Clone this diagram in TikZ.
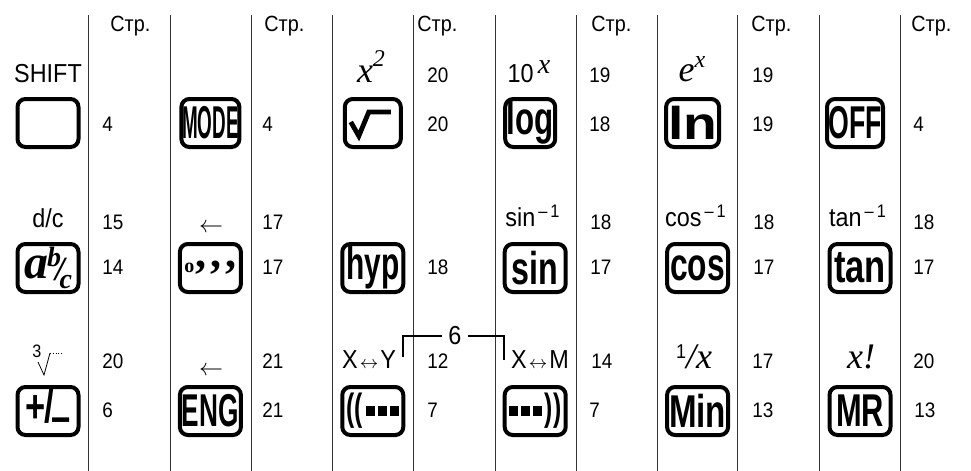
\documentclass[tikz,border=0pt]{standalone}
\usepackage{fontspec}
\usepackage{graphicx}
\usepackage{tikz}
\usetikzlibrary{arrows.meta,positioning}
\newfontfamily\lblfont{Liberation Sans}[FakeStretch=0.9]
\newfontfamily\keyfont{Liberation Sans}
\newfontfamily\serfont{Liberation Serif}
\newcommand{\keytext}[2]{\scalebox{#1}[1]{\keyfont\bfseries\fontsize{23}{23}\selectfont #2}}
\newcommand{\keysq}{\rule[2.5pt]{4.5pt}{5pt}}

\begin{document}
\begin{tikzpicture}[x=0.5pt, y=-0.5pt, node distance=81.2pt, >=Latex,
  key/.style={draw,line width=2pt,rounded corners=4pt,minimum width=30.5pt,minimum height=24pt,inner sep=0pt},
  alt/.style={font=\lblfont\fontsize{13}{13}\selectfont,inner sep=0pt,anchor=base},
  altser/.style={font=\serfont\itshape\fontsize{18}{18}\selectfont,inner sep=0pt,anchor=base},
  pg/.style={font=\lblfont\fontsize{10.5}{10.5}\selectfont,inner sep=0pt,anchor=west},
  hdr/.style={font=\lblfont\fontsize{11}{11}\selectfont,inner sep=0pt,anchor=west},
  colline/.style={line width=0.5pt,black!80}]
\fill[white] (0,0) rectangle (971,471);
\useasboundingbox (0,0) rectangle (971,471);

% Column rules
\foreach \x in {88,170,251,332,413,495,576,657,737,819,900}
  \draw[colline] (\x,15) -- (\x,471);

% Headers
\node(hdr1)[hdr] at (110,26){Стр.};
\node(hdr2)[hdr] at (264,26){Стр.};
\node(hdr3)[hdr] at (417,26){Стр.};
\node(hdr4)[hdr] at (591,26){Стр.};
\node(hdr5)[hdr] at (751,26){Стр.};
\node(hdr6)[hdr] at (911,26){Стр.};

% Keys, first row
\node(shift)[key] at (48,123){};
\node(mode)[key,right of=shift,minimum width=29pt]{\keytext{0.41}{MODE}};
\node(sqrt)[key,right of=mode,minimum width=28pt]{};
\node(log)[key,right of=sqrt,minimum width=25pt,xshift=-2.5pt]{\keytext{0.68}{log}};
\node(ln)[key,right of=log,minimum width=26.5pt]{\keytext{1.2}{ln}};
\node(off)[key,right of=ln,minimum width=28pt]{\keytext{0.58}{OFF}};
\draw[line width=2.4pt,line join=miter] ([shift={(-22,-1)}]sqrt.center) -- ++(8,14) -- ++(10,-24) -- ++(22,0);

% Keys, second row
\node(abc)[key] at (48,268){{\serfont\bfseries\itshape\fontsize{24}{24}\selectfont a\kern-.5pt\raisebox{6pt}{\fontsize{14}{14}\selectfont b}\kern-3pt\raisebox{-1pt}{\fontsize{17}{17}\selectfont /}\kern-2.5pt\raisebox{-5pt}{\fontsize{14}{14}\selectfont c}}};
\node(dms)[key,right of=abc]{{\serfont\bfseries\raisebox{-2.5pt}{\fontsize{10}{10}\selectfont o}\fontsize{22}{22}\selectfont\kern.5pt,\kern2pt,\kern2pt,}};
\node(hyp)[key,right of=dms]{\keytext{0.65}{hyp}};
\node(sin)[key,right of=hyp]{\keytext{0.7}{sin}};
\node(cos)[key,right of=sin]{\keytext{0.69}{cos}};
\node(tan)[key,right of=cos]{\keytext{0.75}{tan}};

% Keys, third row
\node(pm)[key] at (48,411){\keytext{0.75}{+\kern-1pt/\kern-2pt\raisebox{-5pt}{–}}};
\node(eng)[key,right of=pm]{\keytext{0.57}{ENG}};
\node(lpar)[key,right of=eng]{\scalebox{0.65}[1]{\keyfont\bfseries\fontsize{19}{19}\selectfont ((}\kern1.5pt\keysq\kern1.5pt\keysq\kern1.5pt\keysq};
\node(rpar)[key,right of=lpar]{\keysq\kern1.5pt\keysq\kern1.5pt\keysq\kern1.5pt\scalebox{0.65}[1]{\keyfont\bfseries\fontsize{19}{19}\selectfont ))}};
\node(min)[key,right of=rpar]{\keytext{0.72}{Min}};
\node(mr)[key,right of=min]{\keytext{0.67}{MR}};

% Second functions
\node(shiftlbl)[alt] at (48,83){SHIFT};
\node(sqrtlbl)[altser] at (371,83){x\raisebox{.45em}{\fontsize{12}{12}\selectfont 2}};
\node(loglbl)[alt] at (529,83){10\,\raisebox{.35em}{\serfont\itshape\fontsize{14}{14}\selectfont x}};
\node(lnlbl)[altser] at (692,82){e\raisebox{.4em}{\fontsize{12}{12}\selectfont x}};

\node(abclbl)[alt] at (48,227){d/c};
\node(dmslbl)[inner sep=0pt,font=\fontsize{12}{12}\selectfont] at (211,228){$\leftarrow$};
\node(sinlbl)[alt] at (533,226){sin\textsuperscript{\,–\,1}};
\node(coslbl)[alt] at (696,226){cos\textsuperscript{\,–\,1}};
\node(tanlbl)[alt] at (858,226){tan\textsuperscript{\,–\,1}};

\node(pmlbl)[inner sep=0pt,font=\lblfont\fontsize{9}{9}\selectfont] at (37,351){3};
\draw[line width=0.4pt] ([shift={(1,11)}]pmlbl.center) -- ++(6,13) -- ++(6,-22);
\draw[line width=0.4pt,densely dotted] ([shift={(13,2)}]pmlbl.center) -- ++(13,0);
\node(englbl)[inner sep=0pt,font=\fontsize{12}{12}\selectfont] at (211,371){$\leftarrow$};
\node(lparlbl)[alt] at (369,368){X\kern1pt{\fontsize{9}{9}\selectfont$\leftrightarrow$}\kern1pt Y};
\node(rparlbl)[alt] at (540,368){X\kern1pt{\fontsize{9}{9}\selectfont$\leftrightarrow$}\kern1pt M};
\node(minlbl)[alt] at (694,368){\raisebox{.35em}{\fontsize{10}{10}\selectfont 1}{\serfont\itshape\fontsize{18}{18}\selectfont /x}};
\node(mrlbl)[altser] at (861,368){x!};

% Bracket over the two parenthesis keys
\node(six)[font=\lblfont\fontsize{13}{13}\selectfont,inner sep=3pt] at (455,336){6};
\coordinate(brl) at (403,357);
\coordinate(brr) at (504,360);
\draw[line width=0.8pt] (brl) |- (six.west);
\draw[line width=0.8pt] (six.east) -| (brr);

% Page numbers
\node(p1a)[pg] at (102,124){4};
\node(p1b)[pg] at (102,222){15};
\node(p1c)[pg] at (102,267){14};
\node(p1d)[pg] at (102,361){20};
\node(p1e)[pg] at (102,410){6};
\node(p2a)[pg] at (262,124){4};
\node(p2b)[pg] at (262,222){17};
\node(p2c)[pg] at (262,267){17};
\node(p2d)[pg] at (262,361){21};
\node(p2e)[pg] at (262,410){21};
\node(p3a)[pg] at (427,75){20};
\node(p3b)[pg] at (427,124){20};
\node(p3c)[pg] at (427,267){18};
\node(p3d)[pg] at (427,361){12};
\node(p3e)[pg] at (427,410){7};
\node(p4a)[pg] at (589,75){19};
\node(p4b)[pg] at (589,124){18};
\node(p4c)[pg] at (590,222){18};
\node(p4d)[pg] at (590,267){17};
\node(p4e)[pg] at (591,361){14};
\node(p4f)[pg] at (589,410){7};
\node(p5a)[pg] at (752,75){19};
\node(p5b)[pg] at (752,124){19};
\node(p5c)[pg] at (753,222){18};
\node(p5d)[pg] at (753,267){17};
\node(p5e)[pg] at (752,361){17};
\node(p5f)[pg] at (752,410){13};
\node(p6a)[pg] at (913,124){4};
\node(p6b)[pg] at (913,222){18};
\node(p6c)[pg] at (913,267){17};
\node(p6d)[pg] at (913,361){20};
\node(p6e)[pg] at (914,410){13};
\end{tikzpicture}
\end{document}
